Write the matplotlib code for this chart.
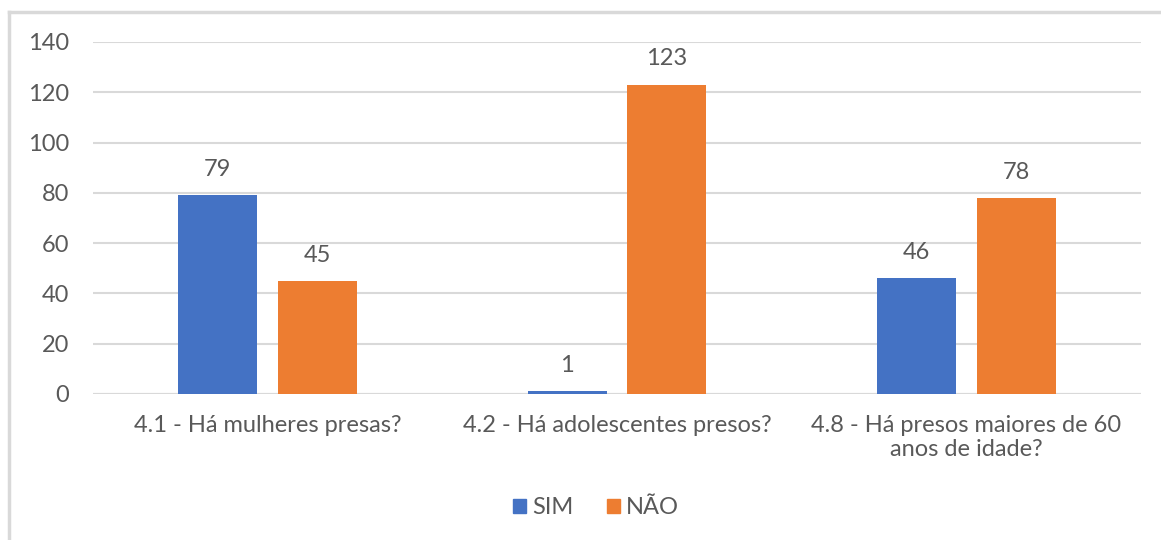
import matplotlib
matplotlib.use("Agg")
import matplotlib.pyplot as plt
import numpy as np
from matplotlib.patches import Rectangle
from matplotlib.lines import Line2D

categories = ["4.1 - Há mulheres presas?", "4.2 - Há adolescentes presos?",
              "4.8 - Há presos maiores de 60\nanos de idade?"]
series_names = ["SIM", "NÃO"]
sim = [79, 1, 46]
nao = [45, 123, 78]
yticks = [0, 20, 40, 60, 80, 100, 120, 140]

colors = ["#4472C4", "#ED7D31"]
txt = "#595959"
grid = "#D9D9D9"
fs = 17

plt.rcParams['font.family'] = ['Lato', 'DejaVu Sans']

fig = plt.figure(figsize=(11.61, 5.40), dpi=100)
ax = fig.add_axes([93/1161, 1-394/540, (1141-93)/1161, (394-42)/540])

x = np.arange(len(categories))
w = 0.226
off = 0.143
for vals, c, sgn in [(sim, colors[0], -1), (nao, colors[1], 1)]:
    bars = ax.bar(x + sgn*off, vals, width=w, color=c, zorder=3)
    for b, v in zip(bars, vals):
        ax.annotate(str(v), (b.get_x()+b.get_width()/2, v), xytext=(0, 11),
                    textcoords="offset points", ha="center", va="bottom",
                    fontsize=fs, color=txt)

ax.set_xlim(-0.5, 2.5)
ax.set_ylim(0, 140)
ax.set_yticks(yticks)
ax.set_yticklabels([str(t) for t in yticks], fontsize=fs, color=txt)
ax.set_xticks(x)
ax.set_xticklabels(categories, fontsize=fs, color=txt, linespacing=1.2)
ax.tick_params(axis='both', length=0)
ax.tick_params(axis='y', pad=17)
ax.tick_params(axis='x', pad=15)
ax.grid(axis='y', color=grid, linewidth=1.5, zorder=0)
for s in ax.spines.values():
    s.set_visible(False)
ax.axhline(0, color=grid, linewidth=1.5, zorder=2)

handles = [Rectangle((0, 0), 1, 1, color=c) for c in colors]
fig.legend(handles, series_names, loc="center", bbox_to_anchor=(596/1161, 1-508/540),
           ncol=2, frameon=False, fontsize=fs, handlelength=0.55, handleheight=0.55,
           handletextpad=0.25, columnspacing=1.4, labelcolor=txt)

# outer frame (left and top visible)
fig.add_artist(Line2D([9/1161, 9/1161], [0, 1-12/540], color=grid, linewidth=2.5, transform=fig.transFigure))
fig.add_artist(Line2D([9/1161, 1], [1-12/540, 1-12/540], color=grid, linewidth=2.5, transform=fig.transFigure))

fig.savefig("out.png", dpi=100, facecolor="white")
